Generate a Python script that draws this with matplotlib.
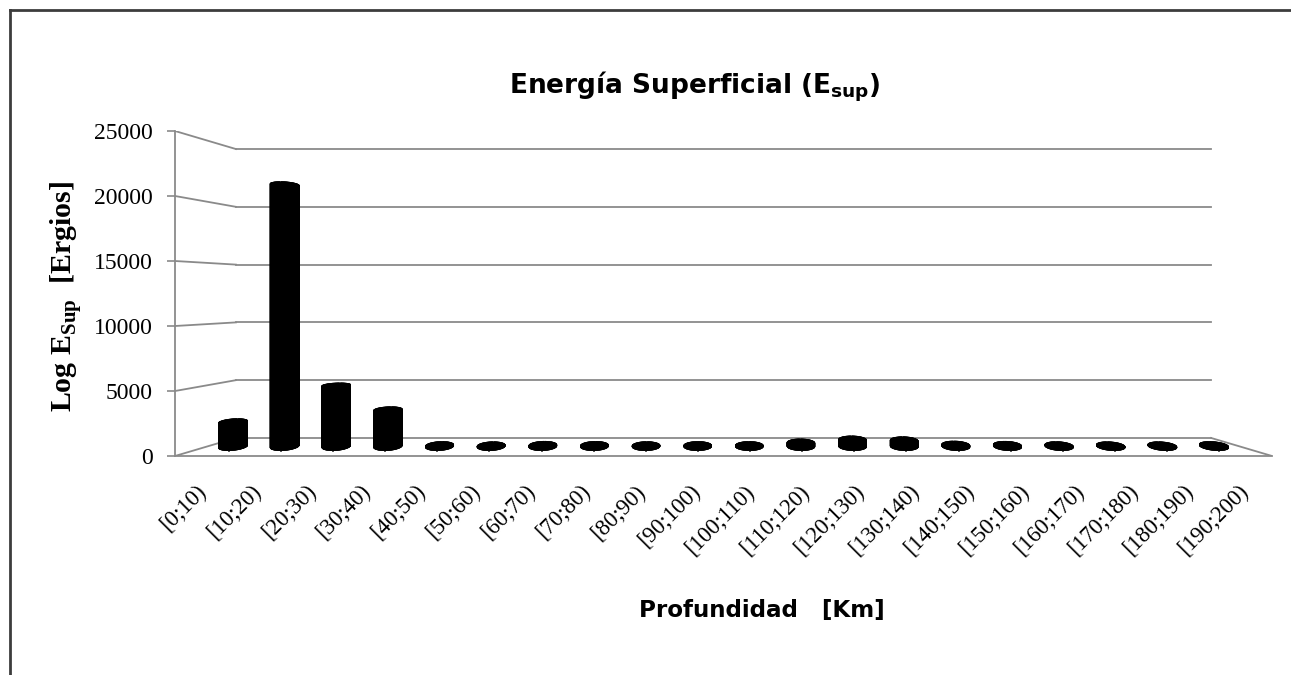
import numpy as np
import matplotlib.pyplot as plt
from matplotlib.collections import PolyCollection
from matplotlib.lines import Line2D
from matplotlib.transforms import ScaledTranslation

# surface energy per depth interval
categories = ["[0;10)", "[10;20)", "[20;30)", "[30;40)", "[40;50)", "[50;60)",
              "[60;70)", "[70;80)", "[80;90)", "[90;100)", "[100;110)", "[110;120)",
              "[120;130)", "[130;140)", "[140;150)", "[150;160)", "[160;170)",
              "[170;180)", "[180;190)", "[190;200)"]
energy = [2000, 21400, 5000, 3000, 80, 60, 100, 90, 70, 80,
          80, 300, 550, 480, 120, 100, 70, 60, 60, 80]
y_ticks = [0, 5000, 10000, 15000, 20000, 25000]

plt.rcParams['mathtext.fontset'] = 'custom'
plt.rcParams['mathtext.bf'] = 'DejaVu Sans:bold'
plt.rcParams['mathtext.rm'] = 'Liberation Serif:bold'

GRID = '#8a8a8a'
N = len(categories)
VMAX = y_ticks[-1]
SHRINK = 0.125          # back wall is drawn 1/(1+SHRINK) the size of the front
R, RD, DC = 0.27, 0.23, 0.5   # cylinder radius (x), radius in depth, centre depth
SKEW = 0.35             # how much of the sideways perspective shift the caps get


def project(x, v, d, dx=None):
    d = np.asarray(d, dtype=float)
    dx = d if dx is None else np.asarray(dx, dtype=float)
    sx = 1.0 / (1.0 + SHRINK * dx)
    sy = 1.0 / (1.0 + SHRINK * d)
    return (N / 2 + sx * (np.asarray(x, dtype=float) - N / 2),
            VMAX / 2 + sy * (np.asarray(v, dtype=float) - VMAX / 2))


fig = plt.figure(figsize=(12.91, 6.75), dpi=100)
ax = fig.add_axes([175 / 1291, 1 - 456 / 675, (1272 - 175) / 1291, (456 - 131) / 675])
ax.set_xlim(0, N)
ax.set_ylim(0, VMAX)

# walls: back gridlines, left-wall diagonals, floor right edge
for v in y_ticks:
    bx, by = project([0, N], [v, v], [1, 1])
    ax.plot(bx, by, color=GRID, lw=1.3, zorder=1)
    lx, ly = project([0, 0], [v, v], [0, 1])
    ax.plot(lx, ly, color=GRID, lw=1.3, zorder=1)
rx, ry = project([N, N], [0, 0], [0, 1])
ax.plot(rx, ry, color=GRID, lw=1.3, zorder=1)

# cylinders
t = np.linspace(0, 2 * np.pi, 91)
polys = []
for k, val in enumerate(energy):
    xc = k + 0.5
    ring_x = xc + R * np.cos(t)
    ring_d = DC + RD * np.sin(t)
    ring_dx = DC + SKEW * RD * np.sin(t)
    bx, by = project(ring_x, np.zeros_like(t), ring_d, ring_dx)
    tx, ty = project(ring_x, np.full_like(t, val), ring_d, ring_dx)
    for i in range(len(t) - 1):
        polys.append([(bx[i], by[i]), (bx[i + 1], by[i + 1]),
                      (tx[i + 1], ty[i + 1]), (tx[i], ty[i])])
    polys.append(np.column_stack([bx, by]))
    polys.append(np.column_stack([tx, ty]))
ax.add_collection(PolyCollection(polys, facecolors='black', edgecolors='black',
                                 linewidths=0.4, zorder=3))

for side in ['top', 'right']:
    ax.spines[side].set_visible(False)
for side in ['left', 'bottom']:
    ax.spines[side].set_color(GRID)
    ax.spines[side].set_linewidth(1.3)
    ax.spines[side].set_zorder(4)

ax.set_yticks(y_ticks)
ax.set_yticklabels([str(v) for v in y_ticks], family='Liberation Serif', fontsize=17)
ax.tick_params(axis='y', direction='out', length=6, width=1.2, color=GRID, pad=10)

ax.set_xticks(np.arange(N) + 0.5)
ax.set_xticklabels(categories, family='Liberation Serif', fontsize=16.5,
                   rotation=45, ha='right', va='top')
ax.tick_params(axis='x', length=0, pad=18)
for lbl in ax.get_xticklabels():
    lbl.set_transform(lbl.get_transform() + ScaledTranslation(6 / 72, 0, fig.dpi_scale_trans))

fig.text(695 / 1291, 1 - 93 / 675, r'Energía Superficial ($\mathbf{E}_\mathbf{sup}$)',
         family='DejaVu Sans', fontweight='bold', fontsize=19, ha='center', va='baseline')
fig.text(762 / 1291, 1 - 617 / 675, 'Profundidad   [Km]',
         family='DejaVu Sans', fontweight='bold', fontsize=16.6, ha='center', va='baseline')
fig.text(66 / 1291, 1 - 297 / 675, r'Log $\mathrm{E}_\mathrm{Sup}$  [Ergios]',
         family='Liberation Serif', fontweight='bold', fontsize=21.5,
         rotation=90, ha='center', va='center')

# outer frame
fig.add_artist(Line2D([9.5 / 1291, 1], [1 - 9.5 / 675, 1 - 9.5 / 675],
                      transform=fig.transFigure, color='#3c3c3c', lw=2))
fig.add_artist(Line2D([9.5 / 1291, 9.5 / 1291], [0, 1 - 9.5 / 675],
                      transform=fig.transFigure, color='#3c3c3c', lw=2))

fig.savefig('out.png', dpi=100)
